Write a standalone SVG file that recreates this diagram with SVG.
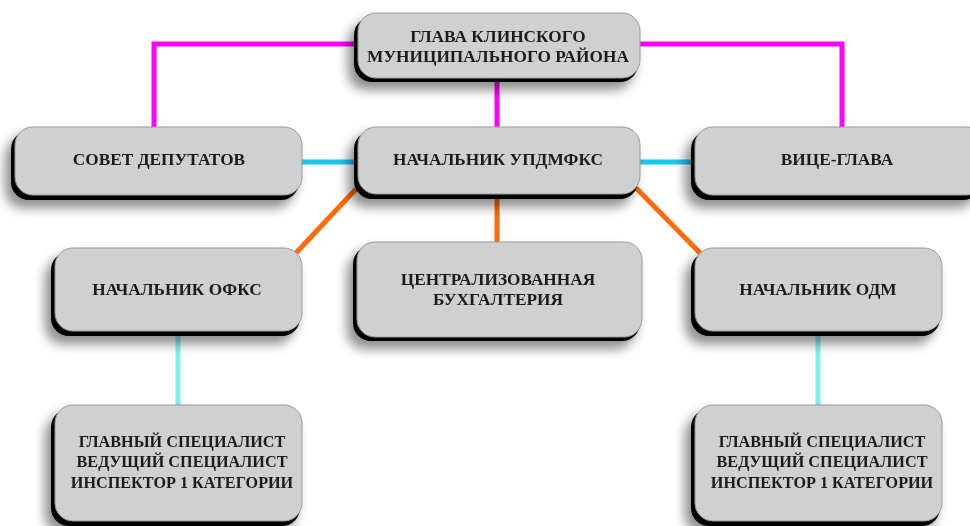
<svg xmlns="http://www.w3.org/2000/svg" width="970" height="526" viewBox="0 0 970 526">
<defs>
<filter id="sh" x="-20%" y="-30%" width="140%" height="170%">
<feGaussianBlur in="SourceAlpha" stdDeviation="6"/>
<feOffset dx="-6" dy="8" result="b"/>
<feComponentTransfer><feFuncA type="linear" slope="0.45"/></feComponentTransfer>
<feMerge><feMergeNode/><feMergeNode in="SourceGraphic"/></feMerge>
</filter>
</defs>
<style>
.dark{fill:#000}
.box{fill:#d0d0d0;stroke:#9a9a9a;stroke-width:1}
.t{font-family:"Liberation Serif","Times New Roman",serif;font-weight:bold;font-size:17.3px;fill:#1a1a1a;text-anchor:middle}
.s{font-size:16.2px}
.c{fill:none;stroke-width:5}
.m{stroke:#ff00ff}
.cy{stroke:#18c8f4}
.o{stroke:#ff6a0a}
.lc{stroke:#80f0ee}
</style>
<rect width="970" height="526" fill="#fff"/>
<g id="connectors">
<polyline class="c m" points="360,44 154,44 154,130"/>
<polyline class="c m" points="636,44 842,44 842,130"/>
<line class="c m" x1="497" y1="78" x2="497" y2="130"/>
<line class="c cy" x1="300" y1="162" x2="358" y2="162"/>
<line class="c cy" x1="638" y1="162" x2="695" y2="162"/>
<line class="c o" x1="356" y1="189" x2="295" y2="254"/>
<line class="c o" x1="636" y1="188" x2="700" y2="253"/>
<line class="c o" x1="497" y1="194" x2="497" y2="244"/>
<line class="c lc" x1="178" y1="330" x2="178" y2="407"/>
<line class="c lc" x1="818" y1="330" x2="818" y2="407"/>
</g>
<g id="glava" filter="url(#sh)">
<rect class="dark" x="354" y="17" width="284" height="65" rx="18"/>
<rect class="box" x="358" y="13" width="282" height="65" rx="18"/>
<text class="t" x="498" y="42">ГЛАВА КЛИНСКОГО</text>
<text class="t" x="498" y="62">МУНИЦИПАЛЬНОГО РАЙОНА</text>
</g>
<g id="sovet" filter="url(#sh)">
<rect class="dark" x="11" y="131" width="288" height="69" rx="18"/>
<rect class="box" x="15" y="127" width="287" height="68" rx="18"/>
<text class="t" x="159" y="165">СОВЕТ ДЕПУТАТОВ</text>
</g>
<g id="updmfks" filter="url(#sh)">
<rect class="dark" x="354" y="131" width="284" height="68" rx="18"/>
<rect class="box" x="358" y="127" width="282" height="67" rx="18"/>
<text class="t" x="498" y="165">НАЧАЛЬНИК УПДМФКС</text>
</g>
<g id="vice" filter="url(#sh)">
<rect class="dark" x="691" y="131" width="290" height="69" rx="18"/>
<rect class="box" x="695" y="127" width="290" height="68" rx="18"/>
<text class="t" x="837" y="165">ВИЦЕ-ГЛАВА</text>
</g>
<g id="ofks" filter="url(#sh)">
<rect class="dark" x="51" y="252" width="249" height="84" rx="18"/>
<rect class="box" x="55" y="248" width="247" height="83" rx="18"/>
<text class="t" x="177" y="295">НАЧАЛЬНИК ОФКС</text>
</g>
<g id="buh" filter="url(#sh)">
<rect class="dark" x="353" y="246" width="287" height="95" rx="18"/>
<rect class="box" x="357" y="242" width="285" height="95" rx="18"/>
<text class="t" x="498" y="285">ЦЕНТРАЛИЗОВАННАЯ</text>
<text class="t" x="498" y="305">БУХГАЛТЕРИЯ</text>
</g>
<g id="odm" filter="url(#sh)">
<rect class="dark" x="691" y="252" width="249" height="84" rx="18"/>
<rect class="box" x="695" y="248" width="247" height="83" rx="18"/>
<text class="t" x="818" y="295">НАЧАЛЬНИК ОДМ</text>
</g>
<g id="spec-left" filter="url(#sh)">
<rect class="dark" x="51" y="409" width="249" height="117" rx="18"/>
<rect class="box" x="55" y="405" width="247" height="116" rx="18"/>
<text class="t s" x="182" y="447">ГЛАВНЫЙ СПЕЦИАЛИСТ</text>
<text class="t s" x="182" y="467">ВЕДУЩИЙ СПЕЦИАЛИСТ</text>
<text class="t s" x="182" y="488">ИНСПЕКТОР 1 КАТЕГОРИИ</text>
</g>
<g id="spec-right" filter="url(#sh)">
<rect class="dark" x="691" y="409" width="249" height="117" rx="18"/>
<rect class="box" x="695" y="405" width="247" height="116" rx="18"/>
<text class="t s" x="822" y="447">ГЛАВНЫЙ СПЕЦИАЛИСТ</text>
<text class="t s" x="822" y="467">ВЕДУЩИЙ СПЕЦИАЛИСТ</text>
<text class="t s" x="822" y="488">ИНСПЕКТОР 1 КАТЕГОРИИ</text>
</g>
</svg>
